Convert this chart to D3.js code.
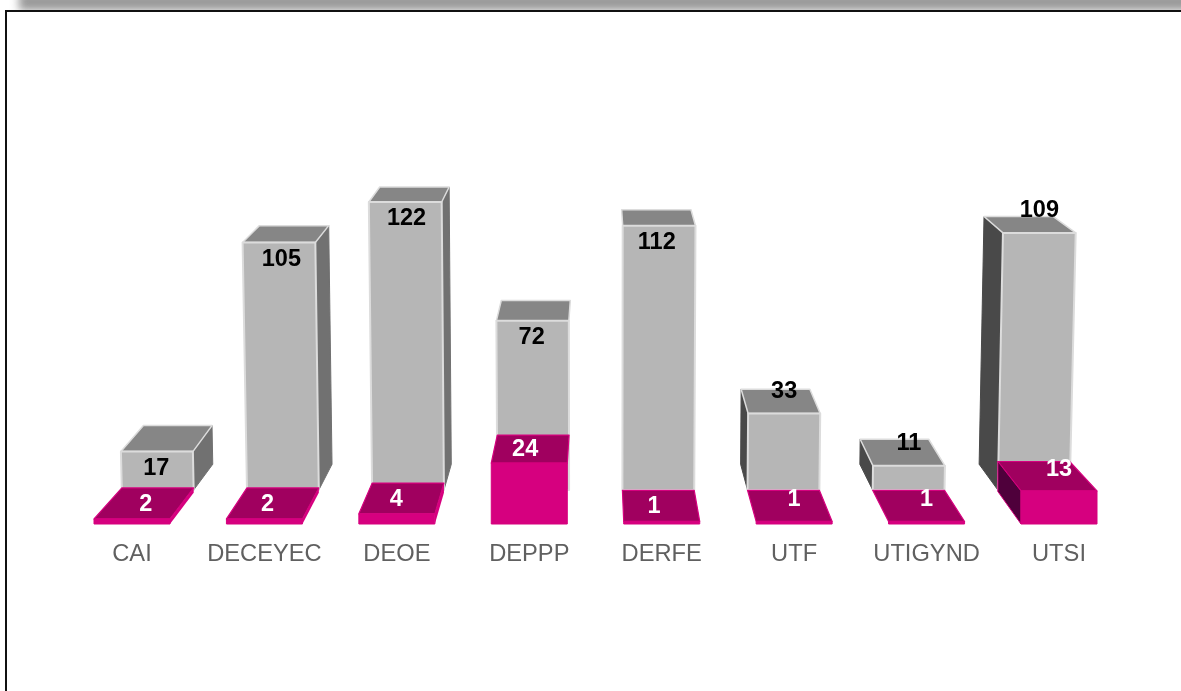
<!DOCTYPE html>
<html><head><meta charset="utf-8">
<style>html,body{margin:0;padding:0;background:#fff;overflow:hidden}svg{display:block}
text{font-family:"Liberation Sans",Arial,sans-serif}</style>
<script src="https://cdn.jsdelivr.net/npm/d3@7/dist/d3.min.js"></script></head><body>
<script>
const categories=["CAI","DECEYEC","DEOE","DEPPP","DERFE","UTF","UTIGYND","UTSI"];
const grayValues=[17,105,122,72,112,33,11,109];
const pinkValues=[2,2,4,24,1,1,1,13];

const W=1181,H=691;
const svg=d3.select("body").append("svg").attr("width",W).attr("height",H);
const defs=svg.append("defs");
defs.append("filter").attr("id","soft").attr("x","-5%").attr("y","-5%").attr("width","110%").attr("height","110%")
  .append("feGaussianBlur").attr("stdDeviation",0.5);
defs.append("filter").attr("id","softText").attr("x","-5%").attr("y","-5%").attr("width","110%").attr("height","110%")
  .append("feGaussianBlur").attr("stdDeviation",0.3);
defs.append("filter").attr("id","shadow").attr("x","-5%").attr("y","-100%").attr("width","110%").attr("height","300%")
  .append("feGaussianBlur").attr("stdDeviation",4);
const lg=defs.append("linearGradient").attr("id","topShade").attr("x1",0).attr("x2",0).attr("y1",0).attr("y2",1);
lg.append("stop").attr("offset",0).attr("stop-color","#b0b0b0");
lg.append("stop").attr("offset",1).attr("stop-color","#8c8c8c");

// page shadow and frame
svg.append("rect").attr("x",19).attr("y",-12).attr("width",W+20).attr("height",22).attr("fill","url(#topShade)").attr("filter","url(#shadow)");
svg.append("rect").attr("x",0).attr("y",10).attr("width",W).attr("height",H).attr("fill","#fff");
svg.append("rect").attr("x",6).attr("y",11).attr("width",W+20).attr("height",H+20).attr("fill","#fff").attr("stroke","#111").attr("stroke-width",2);

// scales
const x=d3.scaleBand().domain(categories).range([94,1097]).paddingInner(0.426).paddingOuter(0);
const yGray=d3.scaleLinear().domain([0,122]).range([492,202]);
const yPink=d3.scaleLinear().domain([0,24]).range([524,463]);

// perspective helpers
const vx=600, depthPink=0.055, depthGray=0.047;
const back=xv=>xv-depthPink*(xv-vx);
const backGray=xv=>xv-depthGray*(xv-vx);
const tilt=(xv,h)=>xv+(xv-vx)*0.00005*h;
const backYGray=y=>y-0.044*(y+139);
const backYPink=y=>y-0.054*(y+55);
const poly=pts=>"M"+pts.map(p=>p.join(",")).join("L")+"Z";

const plot=svg.append("g").attr("filter","url(#soft)");

// gray bars
const GRAY={front:"#b6b6b6",top:"#868686",right:"#717171",left:"#4a4a4a",edge:"#dcdcdc"};
categories.forEach((c,i)=>{
  const g=plot.append("g").attr("class","gray-bar");
  const l=back(x(c)), r=back(x(c)+x.bandwidth());
  const base=yGray(0)-2, yt=yGray(grayValues[i]), h=base-yt;
  const yb=backYGray(yt), ybb=backYGray(yGray(0));
  const fl=tilt(l,h), fr=tilt(r,h), bl=backGray(fl), br=backGray(fr), blb=backGray(l), brb=backGray(r);
  if(blb<l-5) g.append("path").attr("d",poly([[fl,yt],[bl,yb],[blb,ybb],[l,base]])).attr("fill",GRAY.left).attr("stroke",GRAY.left);
  if(brb>r+2) g.append("path").attr("d",poly([[fr,yt],[br,yb],[brb,ybb],[r,base]])).attr("fill",GRAY.right).attr("stroke",GRAY.right);
  g.append("path").attr("d",poly([[fl,yt],[bl,yb],[br,yb],[fr,yt]])).attr("fill",GRAY.top).attr("stroke",GRAY.edge).attr("stroke-width",1.5).attr("stroke-linejoin","round");
  g.append("path").attr("d",poly([[fl,yt],[fr,yt],[r,base],[l,base]])).attr("fill",GRAY.front).attr("stroke",GRAY.edge).attr("stroke-width",2).attr("stroke-linejoin","round");
});

// pink bars
const PINK={front:"#d6007f",top:"#a0005f",left:"#50003a",edge:"#d6007f"};
categories.forEach((c,i)=>{
  const g=plot.append("g").attr("class","pink-bar");
  const l=x(c), r=x(c)+x.bandwidth(), bl=back(l), br=back(r);
  const y0=yPink(0), yt=yPink(pinkValues[i]), yb=backYPink(yt), yb0=backYPink(y0);
  g.append("path").attr("d",poly([[l,yt],[bl,yb],[br,yb],[r,yt]])).attr("fill",PINK.top).attr("stroke",PINK.edge).attr("stroke-width",1.2).attr("stroke-linejoin","round");
  if(bl<l-6&&pinkValues[i]>4) g.append("path").attr("d",poly([[l,yt],[bl,yb],[bl,Math.min(yb0,yb+30)],[l,y0]])).attr("fill",PINK.left).attr("stroke",PINK.edge).attr("stroke-width",1);
  if(br>r+2) g.append("path").attr("d",poly([[r,yt],[br,yb],[br,yb0],[r,y0]])).attr("fill",PINK.edge);
  g.append("path").attr("d",poly([[l,yt],[r,yt],[r,y0],[l,y0]])).attr("fill",PINK.front).attr("stroke",PINK.edge).attr("stroke-width",1);
});

// value labels
const labels=svg.append("g").attr("font-size",23.5).attr("font-weight","bold").attr("text-anchor","middle").attr("filter","url(#softText)");
categories.forEach((c,i)=>{
  const l=back(x(c)), r=back(x(c)+x.bandwidth());
  const rightSide=x(c)>700;
  const yt=yGray(grayValues[i]), h=yGray(0)-yt;
  labels.append("text").attr("x",tilt((l+r)/2,rightSide?h:0)-(rightSide?0:1.5)).attr("y",(rightSide?yt-24:yt+15)).attr("dy","0.35em").attr("fill","#000").text(grayValues[i]);
  const pt=yPink(pinkValues[i]), pb=backYPink(pt);
  const nudge=i===0?2:-5;
  const px=rightSide?x(c)+x.bandwidth()/2:(x(c)+r)/2+nudge;
  labels.append("text").attr("x",px).attr("y",(pt+pb)/2+(rightSide?-8:-1)).attr("dy","0.35em").attr("fill","#fff").text(pinkValues[i]);
});

// category axis
const axis=svg.append("g").attr("transform","translate(0,553)").attr("filter","url(#softText)").call(d3.axisBottom(x).tickSize(0).tickPadding(0));
axis.select(".domain").remove();
axis.selectAll("text").attr("font-size",23.7).attr("fill","#606060").attr("dy","0.35em").attr("y",0).style("font-family",'"Liberation Sans",Arial,sans-serif');
</script></body></html>
